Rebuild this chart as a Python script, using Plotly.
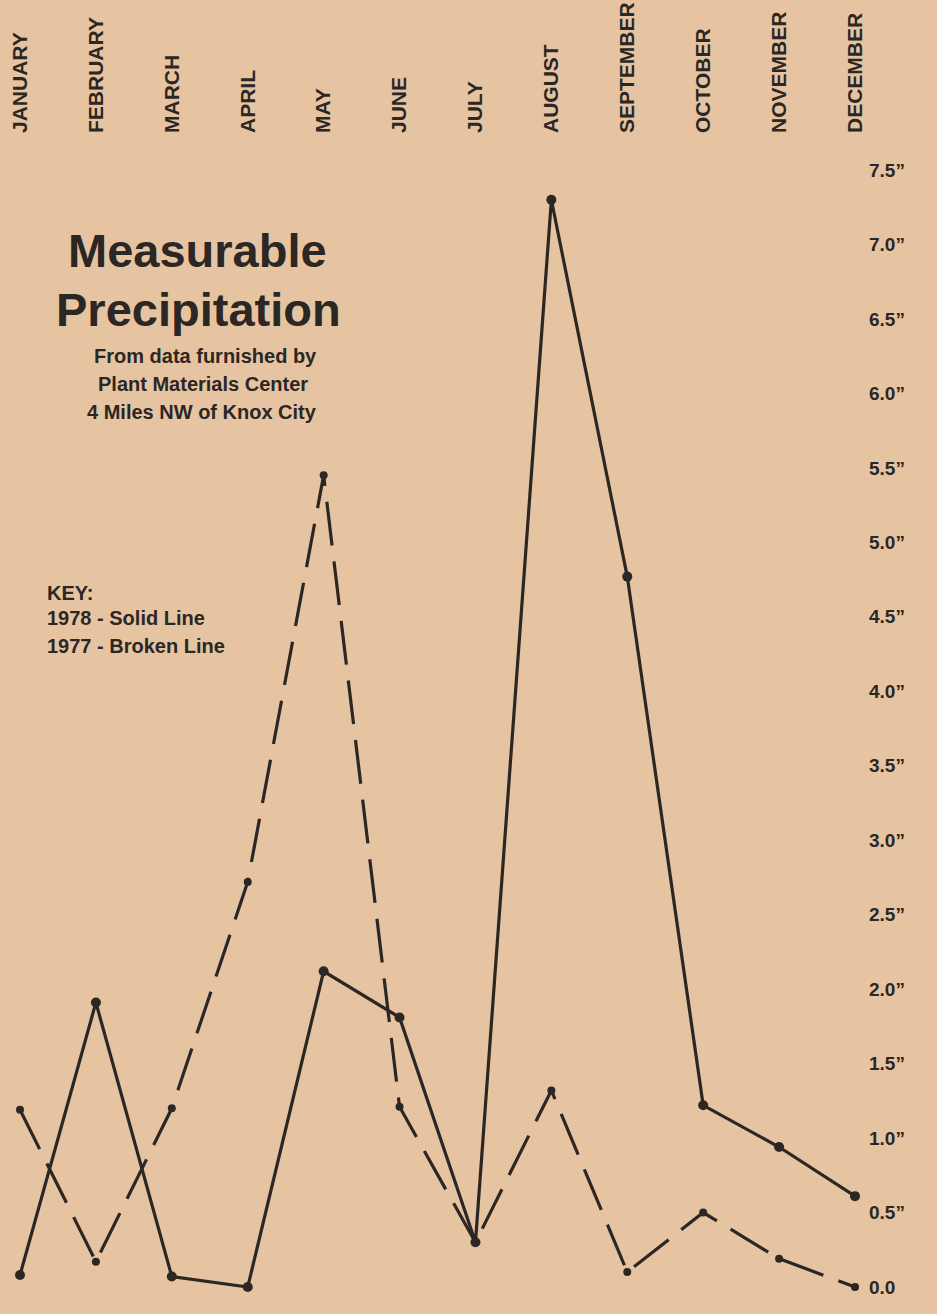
import plotly.graph_objects as go

months = ["JANUARY", "FEBRUARY", "MARCH", "APRIL", "MAY", "JUNE", "JULY",
          "AUGUST", "SEPTEMBER", "OCTOBER", "NOVEMBER", "DECEMBER"]
precip_1978 = [0.08, 1.91, 0.07, 0.0, 2.12, 1.81, 0.30, 7.30, 4.77, 1.22, 0.94, 0.61]
precip_1977 = [1.19, 0.17, 1.20, 2.72, 5.45, 1.21, 0.30, 1.32, 0.10, 0.50, 0.19, 0.0]
y_ticks = [0.0, 0.5, 1.0, 1.5, 2.0, 2.5, 3.0, 3.5, 4.0, 4.5, 5.0, 5.5, 6.0, 6.5, 7.0, 7.5]
y_ticktext = ["0.0"] + [f"{v:.1f}\u201d" for v in y_ticks[1:]]

INK = "#2b2724"
BG = "#e7c4a1"
FONT = "Liberation Sans, Arial, sans-serif"

W, H = 937, 1314
ML, MR, MT, MB = 0, 75, 140, 9
PW, PH = W - ML - MR, H - MT - MB

def px(x):
    return (x - ML) / PW

def py(y):
    return (H - MB - y) / PH

xs = list(range(len(months)))

fig = go.Figure()
fig.add_trace(go.Scatter(
    x=xs, y=precip_1977, mode="lines+markers", name="1977",
    line=dict(color=INK, width=3.2, dash="44px,16px"),
    marker=dict(color=INK, size=8),
))
fig.add_trace(go.Scatter(
    x=xs, y=precip_1978, mode="lines+markers", name="1978",
    line=dict(color=INK, width=3.2),
    marker=dict(color=INK, size=10),
))

annos = []
def txt(text, x, y, size, xanchor="center"):
    annos.append(dict(text=text, x=px(x), y=py(y), xref="paper", yref="paper",
                      xanchor=xanchor, yanchor="middle", showarrow=False,
                      font=dict(family=FONT, size=size, color=INK)))

txt("<b>Measurable</b>", 197, 250, 47)
txt("<b>Precipitation</b>", 198, 309, 47)
txt("<b>From data furnished by</b>", 205, 356, 20)
txt("<b>Plant Materials Center</b>", 203, 384, 20)
txt("<b>4 Miles NW of Knox City</b>", 202, 412, 20)
txt("<b>KEY:</b>", 45, 593, 20, "left")
txt("<b>1978 - Solid Line</b>", 45, 618, 20, "left")
txt("<b>1977 - Broken Line</b>", 45, 646, 20, "left")

fig.update_layout(
    width=W, height=H,
    margin=dict(l=ML, r=MR, t=MT, b=MB),
    paper_bgcolor=BG, plot_bgcolor=BG,
    showlegend=False,
    annotations=annos,
    font=dict(family=FONT, color=INK),
    xaxis=dict(
        range=[-20 / 75.9, 11 + 7 / 75.9],
        side="top", tickmode="array", tickvals=xs,
        ticktext=[f"<b>{m}</b>" for m in months],
        tickangle=-90, tickfont=dict(size=21, family=FONT, color=INK),
        showgrid=False, zeroline=False, showline=False, ticks="",
        ticklabelstandoff=6,
    ),
    yaxis=dict(
        range=[-18 / 148.9, 7.5 + 30 / 148.9],
        side="right", tickmode="array", tickvals=y_ticks,
        ticktext=[f"<b>{t}</b>" for t in y_ticktext],
        tickfont=dict(size=19, family=FONT, color=INK),
        showgrid=False, zeroline=False, showline=False, ticks="",
        ticklabelstandoff=6,
    ),
)

fig.write_html(
    "out.html",
    config={"displayModeBar": False},
    post_script=(
        "document.body.style.margin='0';"
        "document.body.style.padding='0';"
        "document.body.style.overflow='hidden';"
        f"document.body.style.background='{BG}';"
    ),
)
